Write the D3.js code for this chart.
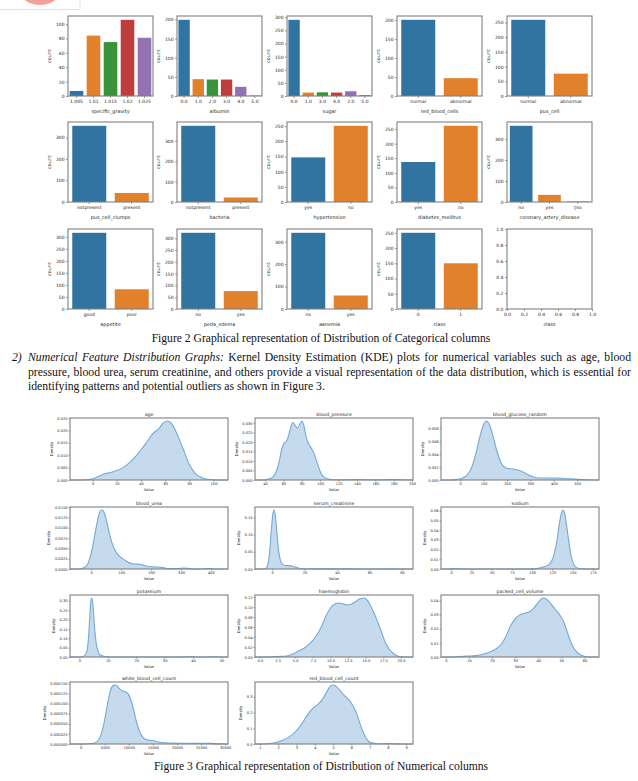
<!DOCTYPE html>
<html><head><meta charset="utf-8">
<script src="https://cdn.jsdelivr.net/npm/d3@7"></script>
<style>body{margin:0;background:#fff} svg{display:block}</style>
</head><body><svg id="c" width="638" height="781"></svg>
<script>
// ---------- DATA: categorical counts ----------
const sgCats = ["1.005","1.01","1.015","1.02","1.025"];       const sgCounts = [7,84,75,106,81];
const alCats = ["0.0","1.0","2.0","3.0","4.0","5.0"];         const alCounts = [199,44,43,43,24,1];
const suCats = ["0.0","1.0","3.0","4.0","2.0","5.0"];         const suCounts = [290,13,14,13,18,3];
const rbcCats = ["normal","abnormal"];                        const rbcCounts = [201,47];
const pcCats = ["normal","abnormal"];                         const pcCounts = [259,76];
const pccCats = ["notpresent","present"];                     const pccCounts = [354,42];
const baCats = ["notpresent","present"];                      const baCounts = [374,22];
const htnCats = ["yes","no"];                                 const htnCounts = [147,251];
const dmCats = ["yes","no"];                                  const dmCounts = [137,261];
const cadCats = ["no","yes","\u25AFno"];                      const cadCounts = [362,34,2];
const appetCats = ["good","poor"];                            const appetCounts = [317,82];
const peCats = ["no","yes"];                                  const peCounts = [323,76];
const aneCats = ["no","yes"];                                 const aneCounts = [339,60];
const classCats = ["0","1"];                                  const classCounts = [250,150];
const barLabels = ["specific_gravity","albumin","sugar","red_blood_cells","pus_cell",
  "pus_cell_clumps","bacteria","hypertension","diabetes_mellitus","coronary_artery_disease",
  "appetite","peda_edema","aanemia","class","class"];
const emptyTicks = [0,0.2,0.4,0.6,0.8,1.0];

// ---------- DATA: KDE curves [value, density] ----------
const ageKde = [[-18.8,0],[-15,0],[-5,0.0001],[0,0.0005],[5,0.0015],[10,0.0025],[15,0.003],[20,0.0038],[25,0.005],[30,0.0068],[35,0.0092],[40,0.0122],[45,0.0155],[50,0.0188],[55,0.0208],[58,0.0228],[61,0.0238],[64,0.0234],[67,0.0215],[70,0.0183],[75,0.0124],[80,0.0062],[85,0.0026],[90,0.001],[95,0.0003],[100,0.0001],[108,0],[112,0]];
const bpKde = [[29,0],[35,0],[40,0.0001],[45,0.0006],[50,0.0025],[55,0.009],[58,0.016],[61,0.0195],[64,0.021],[67,0.026],[70,0.0302],[73,0.0285],[75,0.0272],[78,0.0295],[80,0.031],[82,0.029],[85,0.022],[88,0.0185],[91,0.0162],[94,0.013],[97,0.0085],[100,0.0045],[104,0.0015],[110,0.0004],[120,0.0001],[130,0.0001],[140,0.0003],[150,0.0001],[170,0.0001],[180,0.0003],[190,0.0001],[201,0]];
const bgrKde = [[-82,0],[-40,0],[-10,0.0001],[10,0.0003],[30,0.0008],[50,0.002],[70,0.0045],[85,0.0068],[100,0.0086],[112,0.0091],[125,0.0085],[140,0.0068],[155,0.0047],[170,0.003],[185,0.0021],[200,0.0018],[225,0.0017],[250,0.0015],[270,0.0012],[290,0.0008],[310,0.0005],[340,0.0003],[380,0.0003],[420,0.0003],[460,0.0002],[500,0.0001],[540,0.00003],[593,0]];
const buKde = [[-71,0],[-40,0],[-25,0.0003],[-15,0.0008],[-5,0.0025],[5,0.0055],[15,0.0095],[25,0.013],[33,0.0143],[40,0.0141],[50,0.012],[60,0.0088],[70,0.0062],[80,0.0045],[90,0.0034],[105,0.0025],[120,0.0018],[135,0.0013],[150,0.0012],[165,0.0011],[180,0.0008],[195,0.0006],[215,0.0005],[235,0.0004],[260,0.0001],[290,0.0001],[310,0.0002],[330,0.0001],[360,0],[390,0.0001],[420,0],[457,0]];
const scKde = [[-10.5,0],[-5,0],[-3.5,0.003],[-2.5,0.015],[-1.5,0.05],[-0.5,0.11],[0.5,0.16],[1.2,0.172],[2,0.155],[3,0.105],[4,0.055],[5,0.028],[6,0.016],[7.5,0.011],[9,0.01],[10.5,0.0098],[12,0.0085],[14,0.006],[16,0.003],[18,0.0015],[21,0.0008],[25,0.0006],[30,0.0003],[35,0.0005],[40,0.0002],[48,0.0004],[55,0.0001],[65,0.0001],[76,0.0003],[80,0.0001],[86.7,0]];
const naKde = [[-12.6,0],[-3,0],[0,0.0002],[4.5,0.0004],[9,0.0002],[14,0],[50,0],[90,0],[100,0.0001],[105,0.0004],[110,0.0012],[114,0.0022],[118,0.003],[122,0.0055],[126,0.012],[130,0.026],[133,0.043],[136,0.057],[138,0.0607],[140,0.058],[142,0.048],[145,0.03],[148,0.014],[151,0.0055],[154,0.002],[158,0.0006],[163,0.0002],[170,0],[182.6,0]];
const kKde = [[-3.3,0],[0,0],[1,0.001],[2,0.01],[2.7,0.035],[3.2,0.1],[3.6,0.2],[4,0.29],[4.3,0.315],[4.7,0.29],[5.1,0.21],[5.5,0.13],[6,0.065],[6.6,0.03],[7.3,0.012],[8.5,0.004],[10,0.001],[12,0],[36,0],[39,0.0015],[41,0],[45,0],[47,0.0015],[49,0],[52.3,0]];
const hemoKde = [[-0.7,0],[0.5,0],[1.5,0.0003],[2.5,0.001],[3.5,0.0015],[4.5,0.005],[5.5,0.012],[6.5,0.02],[7.3,0.03],[8,0.043],[8.7,0.06],[9.3,0.08],[10,0.098],[10.6,0.106],[11.2,0.108],[11.8,0.106],[12.4,0.104],[13,0.106],[13.7,0.112],[14.3,0.117],[14.8,0.118],[15.3,0.112],[15.9,0.096],[16.5,0.077],[17.1,0.055],[17.7,0.032],[18.3,0.016],[19,0.006],[19.7,0.001],[20.5,0],[21.7,0]];
const pcvKde = [[-2.1,0],[2,0],[5,0.0002],[9,0.0006],[13,0.001],[16,0.002],[19,0.0035],[21.5,0.0055],[24,0.009],[26,0.0145],[28,0.022],[30,0.027],[32,0.0298],[34,0.031],[36,0.0318],[38,0.0345],[40,0.0385],[42,0.0418],[43.5,0.041],[45,0.0385],[47,0.0345],[49,0.0305],[51,0.025],[52.5,0.018],[54,0.011],[55.5,0.006],[57,0.003],[59,0.001],[61,0.0002],[63,0],[66.3,0]];
const wbcKde = [[-2200,0],[0,0],[1500,0.0000005],[2800,0.000002],[3600,0.000008],[4300,0.000025],[5000,0.00006],[5600,0.0001],[6200,0.000132],[6800,0.000145],[7300,0.000146],[7900,0.000139],[8600,0.000132],[9300,0.000129],[9900,0.000124],[10400,0.00011],[11000,0.000085],[11600,0.000055],[12200,0.000032],[12900,0.000017],[13600,0.000011],[14400,0.000009],[15300,0.000008],[16200,0.000005],[17500,0.000003],[19000,0.0000025],[20500,0.000002],[22000,0.000002],[24000,0.0000015],[26000,0.000002],[27500,0.000001],[29000,0.0000003],[30600,0]];
const rbccKde = [[0.73,0],[1,0],[1.4,0.002],[1.8,0.008],[2.2,0.022],[2.6,0.045],[3.0,0.085],[3.3,0.13],[3.6,0.185],[3.9,0.228],[4.2,0.255],[4.4,0.28],[4.6,0.32],[4.8,0.36],[4.95,0.375],[5.1,0.372],[5.3,0.35],[5.6,0.31],[5.9,0.275],[6.1,0.24],[6.3,0.19],[6.5,0.12],[6.7,0.06],[6.9,0.022],[7.1,0.007],[7.4,0.002],[7.8,0.002],[8.1,0.003],[8.4,0.001],[8.8,0],[9.37,0]];
const kdeTitles = ["age","blood_pressure","blood_glucose_random","blood_urea","serum_creatinine","sodium","potassium","haemoglobin","packed_cell_volume","white_blood_cell_count","red_blood_cell_count"];
const kdeXTicks = [[0,20,40,60,80,100],[40,60,80,100,120,140,160,180,200],[0,100,200,300,400,500],[0,100,200,300,400],[0,20,40,60,80],[0,25,50,75,100,125,150,175],[0,10,20,30,40,50],[0,2.5,5,7.5,10,12.5,15,17.5,20],[0,10,20,30,40,50,60],[0,5000,10000,15000,20000,25000,30000],[1,2,3,4,5,6,7,8,9]];
const kdeXDec = [0,0,0,0,0,0,0,1,0,0,0];
const kdeYTicks = [[0,0.005,0.01,0.015,0.02,0.025],[0,0.005,0.01,0.015,0.02,0.025,0.03],[0,0.002,0.004,0.006,0.008],[0,0.0025,0.005,0.0075,0.01,0.0125,0.015],[0,0.05,0.1,0.15],[0,0.01,0.02,0.03,0.04,0.05,0.06],[0,0.05,0.1,0.15,0.2,0.25,0.3],[0,0.02,0.04,0.06,0.08,0.1,0.12],[0,0.01,0.02,0.03,0.04],[0,0.000025,0.00005,0.000075,0.0001,0.000125,0.00015],[0,0.1,0.2,0.3]];
const kdeYDec = [3,3,3,4,2,2,2,2,2,6,1];

// ---------- TEXT ----------
const cap2 = "Figure 2 Graphical representation of Distribution of Categorical columns";
const cap3 = "Figure 3 Graphical representation of Distribution of Numerical columns";
const paraNum = "2)";
const paraItalic = "Numerical Feature Distribution Graphs:";
const paraLine1 = " Kernel Density Estimation (KDE) plots for numerical variables such as age, blood";
const paraLine2 = "pressure, blood urea, serum creatinine, and others provide a visual representation of the data distribution, which is essential for";
const paraLine3 = "identifying patterns and potential outliers as shown in Figure 3.";

// ---------- LAYOUT ----------
const svg = d3.select("#c");
const SANS = "DejaVu Sans, sans-serif";
const SERIF = "Liberation Serif, 'Times New Roman', serif";
const palette = ["#3274a1","#e1812c","#3a923a","#c03d3e","#9372b2","#845b53"];
const frameCol = "#808080", txtCol = "#262626";

// logo fragment
svg.append("circle").attr("cx",40).attr("cy",-22).attr("r",27).attr("fill","#f4a19c");
svg.append("path").attr("d","M0,9.5H80V0").attr("fill","none").attr("stroke","#e2e2e2").attr("stroke-width",1);

const barCols = [68,177,287,397,507], barW = 85;
const barRows = [16,122,229], barH = 80;
const barData = [
  [sgCats,sgCounts],[alCats,alCounts],[suCats,suCounts],[rbcCats,rbcCounts],[pcCats,pcCounts],
  [pccCats,pccCounts],[baCats,baCounts],[htnCats,htnCounts],[dmCats,dmCounts],[cadCats,cadCounts],
  [appetCats,appetCounts],[peCats,peCounts],[aneCats,aneCounts],[classCats,classCounts],null];

function styleAxis(ax, fs){
  ax.select(".domain").remove();
  ax.selectAll(".tick line").attr("stroke","#555").attr("stroke-width",0.6);
  ax.selectAll(".tick text").attr("font-family",SANS).attr("font-size",fs).attr("fill",txtCol);
}
function yLabel(g, ay, yc, fs, txt){
  let minX = Infinity;
  ay.selectAll(".tick text").each(function(){ const b=this.getBBox(); const m=this.getCTM();
    minX = Math.min(minX, b.x + m.e); });
  g.append("text").attr("transform",`translate(${minX-4.5},${yc}) rotate(-90)`)
    .attr("text-anchor","middle").attr("font-family",SANS).attr("font-size",fs)
    .attr("fill",txtCol).text(txt);
}

barData.forEach((bd,i)=>{
  const x0 = barCols[i%5], y0 = barRows[Math.floor(i/5)];
  const g = svg.append("g");
  let x, y;
  if (bd){
    const [cats,counts] = bd;
    x = d3.scaleBand().domain(cats).range([x0,x0+barW]).paddingInner(0.2).paddingOuter(0.1);
    y = d3.scaleLinear().domain([0,d3.max(counts)*1.05]).range([y0+barH,y0]);
    g.selectAll("rect.bar").data(cats).join("rect").attr("class","bar")
      .attr("x",d=>x(d)).attr("width",x.bandwidth())
      .attr("y",(d,j)=>y(counts[j])).attr("height",(d,j)=>y(0)-y(counts[j]))
      .attr("fill",(d,j)=>palette[j%palette.length]);
    const ax = g.append("g").attr("transform",`translate(0,${y0+barH})`)
      .call(d3.axisBottom(x).tickSize(2).tickPadding(1.5));
    styleAxis(ax,4.5);
    const ay = g.append("g").attr("transform",`translate(${x0},0)`)
      .call(d3.axisLeft(y).ticks(5).tickSize(2).tickPadding(1.5));
    styleAxis(ay,4.5);
    yLabel(g, ay, y0+barH/2, 4.8, "count");
  } else {
    x = d3.scaleLinear().domain([0,1]).range([x0,x0+barW]);
    y = d3.scaleLinear().domain([0,1]).range([y0+barH,y0]);
    const ax = g.append("g").attr("transform",`translate(0,${y0+barH})`)
      .call(d3.axisBottom(x).tickValues(emptyTicks).tickFormat(d3.format(".1f")).tickSize(2).tickPadding(1.5));
    styleAxis(ax,4.5);
    const ay = g.append("g").attr("transform",`translate(${x0},0)`)
      .call(d3.axisLeft(y).tickValues(emptyTicks).tickFormat(d3.format(".1f")).tickSize(2).tickPadding(1.5));
    styleAxis(ay,4.5);
  }
  g.append("rect").attr("x",x0).attr("y",y0).attr("width",barW).attr("height",barH)
    .attr("fill","none").attr("stroke",frameCol).attr("stroke-width",1.1);
  g.append("text").attr("x",x0+barW/2).attr("y",y0+barH+16.5).attr("text-anchor","middle")
    .attr("font-family",SANS).attr("font-size",4.9).attr("fill",txtCol).text(barLabels[i]);
});

// ---------- KDE grid ----------
const kdeCols = [70,255,441], kdeW = 158;
const kdeRows = [418,507,595,682], kdeH = 62;
const kdeData = [ageKde,bpKde,bgrKde,buKde,scKde,naKde,kKde,hemoKde,pcvKde,wbcKde,rbccKde];
kdeData.forEach((pts,i)=>{
  const x0 = kdeCols[i%3], y0 = kdeRows[Math.floor(i/3)];
  const g = svg.append("g");
  const x = d3.scaleLinear().domain(d3.extent(pts,d=>d[0])).range([x0,x0+kdeW]);
  const y = d3.scaleLinear().domain([0,d3.max(pts,d=>d[1])*1.05]).range([y0+kdeH,y0]);
  const area = d3.area().x(d=>x(d[0])).y0(y(0)).y1(d=>y(d[1])).curve(d3.curveMonotoneX);
  const line = d3.line().x(d=>x(d[0])).y(d=>y(d[1])).curve(d3.curveMonotoneX);
  g.append("path").datum(pts).attr("d",area).attr("fill","#c5daec");
  g.append("path").datum(pts).attr("d",line).attr("fill","none").attr("stroke","#74aad6").attr("stroke-width",1.1);
  const ax = g.append("g").attr("transform",`translate(0,${y0+kdeH})`)
    .call(d3.axisBottom(x).tickValues(kdeXTicks[i]).tickFormat(d3.format(`.${kdeXDec[i]}f`)).tickSize(1.5).tickPadding(1));
  styleAxis(ax,3.6);
  const ay = g.append("g").attr("transform",`translate(${x0},0)`)
    .call(d3.axisLeft(y).tickValues(kdeYTicks[i]).tickFormat(d3.format(`.${kdeYDec[i]}f`)).tickSize(1.5).tickPadding(1));
  styleAxis(ay,3.6);
  g.append("rect").attr("x",x0).attr("y",y0).attr("width",kdeW).attr("height",kdeH)
    .attr("fill","none").attr("stroke",frameCol).attr("stroke-width",1.1);
  g.append("text").attr("x",x0+kdeW/2).attr("y",y0-2.5).attr("text-anchor","middle")
    .attr("font-family",SANS).attr("font-size",4.7).attr("fill",txtCol).text(kdeTitles[i]);
  g.append("text").attr("x",x0+kdeW/2).attr("y",y0+kdeH+11).attr("text-anchor","middle")
    .attr("font-family",SANS).attr("font-size",3.8).attr("fill",txtCol).text("Value");
  yLabel(g, ay, y0+kdeH/2, 3.8, "Density");
});

// ---------- Captions & paragraph ----------
function fitText(str, target, italic){
  const t = svg.append("text").attr("font-family",SERIF).attr("font-size",12).attr("font-style",italic?"italic":"normal").text(str);
  const w = t.node().getComputedTextLength(); t.remove();
  return 12*target/w;
}
const capFs = fitText(cap2, 339);
svg.append("text").attr("x",321).attr("y",342).attr("text-anchor","middle").attr("font-family",SERIF)
  .attr("font-size",capFs).attr("fill","#111").text(cap2);
svg.append("text").attr("x",321).attr("y",770).attr("text-anchor","middle").attr("font-family",SERIF)
  .attr("font-size",capFs).attr("fill","#111").text(cap3);

const pFs = fitText(paraLine3, 297);
const pBase = [361, 375.5, 390];
svg.append("text").attr("x",12).attr("y",pBase[0]).attr("font-family",SERIF).attr("font-size",pFs)
  .attr("font-style","italic").attr("fill","#111").text(paraNum);
function justLine(parts, yb, x1, x2){
  const t = svg.append("text").attr("x",x1).attr("y",yb).attr("font-family",SERIF).attr("font-size",pFs).attr("fill","#111");
  parts.forEach(p=>t.append("tspan").attr("font-style",p[1]?"italic":"normal").text(p[0]));
  const w = t.node().getComputedTextLength();
  const nSp = parts.map(p=>p[0]).join("").split(" ").length-1;
  t.attr("word-spacing",(x2-x1-w)/nSp);
}
justLine([[paraItalic,true],[paraLine1,false]], pBase[0], 28, 631);
justLine([[paraLine2,false]], pBase[1], 28, 631);
svg.append("text").attr("x",28).attr("y",pBase[2]).attr("font-family",SERIF).attr("font-size",pFs)
  .attr("fill","#111").text(paraLine3);
</script></body></html>
